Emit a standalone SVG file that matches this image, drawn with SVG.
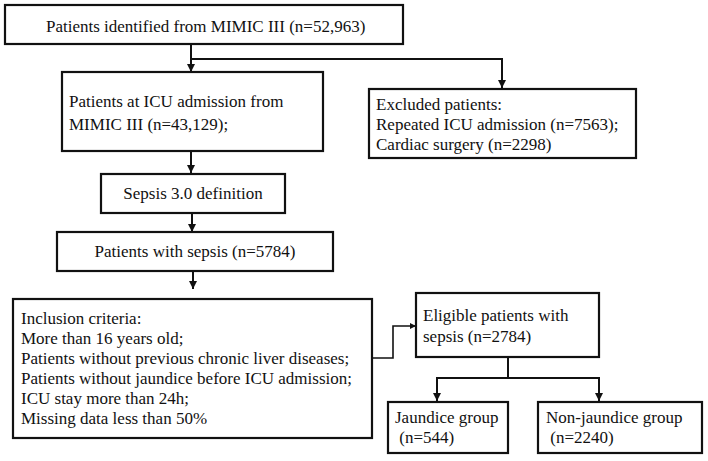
<svg xmlns="http://www.w3.org/2000/svg" width="708" height="461" viewBox="0 0 708 461">
<defs>
<style>
.box{fill:#fff;stroke:#111;stroke-width:2.2}
.ln{fill:none;stroke:#111;stroke-width:2}
.thin{fill:none;stroke:#111;stroke-width:1.6}
text{font-family:"Liberation Serif","Times New Roman",serif;font-size:17px;fill:#111}
</style>
<marker id="ah" viewBox="0 0 10 10" refX="10" refY="5" markerWidth="8" markerHeight="8" markerUnits="userSpaceOnUse" orient="auto">
<path d="M0,0 L10,5 L0,10 Z" fill="#111"/>
</marker>
<marker id="ahs" viewBox="0 0 10 10" refX="10" refY="5" markerWidth="6" markerHeight="6" markerUnits="userSpaceOnUse" orient="auto">
<path d="M0,0 L10,5 L0,10 Z" fill="#111"/>
</marker>
</defs>
<rect width="708" height="461" fill="#fff"/>
<g id="connectors">
<path class="ln" d="M191,44 V72" marker-end="url(#ah)"/>
<path class="ln" d="M191,59 H502 V88" marker-end="url(#ah)"/>
<path class="ln" d="M191,151 V173" marker-end="url(#ah)"/>
<path class="ln" d="M192,213 V232" marker-end="url(#ah)"/>
<path class="ln" d="M193,271 V289" marker-end="url(#ah)"/>
<path class="thin" d="M372,358 H393 V326 H416" marker-end="url(#ahs)"/>
<path class="ln" d="M508,357 V378"/>
<path class="ln" d="M437,378 H599"/>
<path class="ln" d="M437,377 V401" marker-end="url(#ah)"/>
<path class="ln" d="M599,377 V401" marker-end="url(#ah)"/>
</g>
<g id="n1">
<rect class="box" x="5" y="5" width="398" height="39"/>
<text x="46" y="32">Patients identified from MIMIC III (n=52,963)</text>
</g>
<g id="n2">
<rect class="box" x="62" y="72" width="261" height="79"/>
<text x="69" y="107">Patients at ICU admission from</text>
<text x="69" y="130">MIMIC III (n=43,129);</text>
</g>
<g id="n3">
<rect class="box" x="369" y="89" width="267" height="69"/>
<text x="376" y="110">Excluded patients:</text>
<text x="376" y="130">Repeated ICU admission (n=7563);</text>
<text x="376" y="150">Cardiac surgery (n=2298)</text>
</g>
<g id="n4">
<rect class="box" x="101" y="174" width="184" height="39"/>
<text x="193" y="199" text-anchor="middle">Sepsis 3.0 definition</text>
</g>
<g id="n5">
<rect class="box" x="57" y="232" width="276" height="39"/>
<text x="195" y="257" text-anchor="middle">Patients with sepsis (n=5784)</text>
</g>
<g id="n6">
<rect class="box" x="13" y="299" width="359" height="139"/>
<text x="21" y="324">Inclusion criteria:</text>
<text x="21" y="344">More than 16 years old;</text>
<text x="21" y="364">Patients without previous chronic liver diseases;</text>
<text x="21" y="384">Patients without jaundice before ICU admission;</text>
<text x="21" y="404">ICU stay more than 24h;</text>
<text x="21" y="424">Missing data less than 50%</text>
</g>
<g id="n7">
<rect class="box" x="416" y="293" width="183" height="64"/>
<text x="423" y="321">Eligible patients with</text>
<text x="423" y="342">sepsis (n=2784)</text>
</g>
<g id="n8">
<rect class="box" x="388" y="402" width="120" height="51"/>
<text x="395" y="423">Jaundice group</text>
<text x="395" y="443" xml:space="preserve"> (n=544)</text>
</g>
<g id="n9">
<rect class="box" x="538" y="402" width="164" height="51"/>
<text x="546" y="423">Non-jaundice group</text>
<text x="546" y="443" xml:space="preserve"> (n=2240)</text>
</g>
</svg>
